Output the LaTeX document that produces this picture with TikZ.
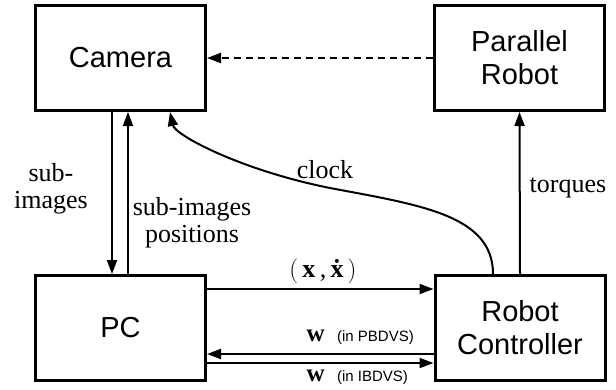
\documentclass[tikz,border=0pt]{standalone}
\usepackage{fontspec}
\setmainfont{Liberation Serif}
\newfontfamily\chukhoi{Liberation Sans}
\usetikzlibrary{arrows.meta}
\tikzset{
	khoi/.style={draw,line width=3pt,minimum width=170pt,minimum height=105pt,align=center,
		font=\chukhoi\fontsize{29}{33}\selectfont},
	muiten/.style={line width=2pt,-{Stealth[length=14pt,width=10pt,inset=0pt]}},
	nhan/.style={align=center,font=\fontsize{26}{27}\selectfont},
	nhannho/.style={font=\fontsize{25}{26}\selectfont}
}
\begin{document}
\begin{tikzpicture}[x=1pt,y=-1pt,line join=miter]
	\useasboundingbox (0,0) rectangle (616,389);
	%%%%Các khối
	\node[khoi] (camera) at (120.5,58) {Camera};
	\node[khoi] (robot) at (519.5,58) {Parallel\\Robot};
	\node[khoi] (pc) at (120.5,328) {PC};
	\node[khoi] (dieukhien) at (520,328) {Robot\\Controller};
	%%%%Mũi tên
	\draw[muiten,dash pattern=on 7pt off 5pt] (robot.west) -- (camera.east);
	\draw[muiten] ([xshift=-8.5pt]camera.south) -- ([xshift=-8.5pt]pc.north);
	\draw[muiten] ([xshift=7.5pt]pc.north) -- ([xshift=7.5pt]camera.south);
	\draw[muiten] (dieukhien.north) -- (robot.south);
	\draw[muiten] ([xshift=-27pt]dieukhien.north) .. controls (493,215) and (420,205) ..
		(330,188) .. controls (240,170) and (175,135) .. ([xshift=49.5pt]camera.south);
	\draw[muiten] ([yshift=39pt]pc.east) -- ([yshift=39pt]dieukhien.west);
	\draw[muiten] ([yshift=-26pt]dieukhien.west) -- ([yshift=-26pt]pc.east);
	\draw[muiten] ([yshift=-35pt]pc.east) -- ([yshift=-35pt]dieukhien.west);
	%%%%Nhãn
	\node[nhan] (anhcon) at (51,189) {sub-\\images};
	\node[nhan] (vitri) at (192,223) {sub-images\\positions};
	\node[nhan] (dongho) at (325,170) {clock};
	\node[nhan] (momen) at (568,188) {torques};
	\node[nhan] (trangthai) at (323,271) {$\bigl(\,$\textbf{x}\,,\,\textbf{\.x}$\,\bigr)$};
	\node[nhannho,anchor=west] (pbdvs) at (303,337) {\textbf{w}\ \ {\chukhoi\fontsize{15}{17}\selectfont(in PBDVS)}};
	\node[nhannho,anchor=west] (ibdvs) at (303,377) {\textbf{w}\ \ {\chukhoi\fontsize{15}{17}\selectfont(in IBDVS)}};
\end{tikzpicture}
\end{document}
